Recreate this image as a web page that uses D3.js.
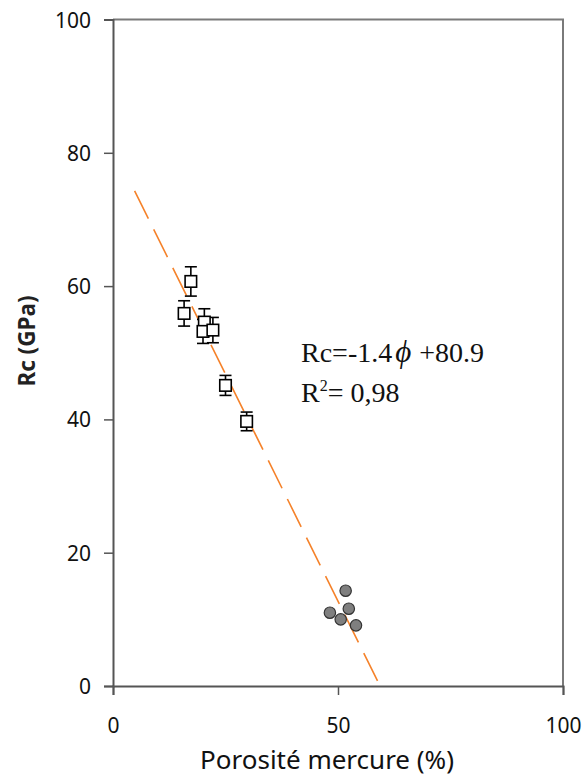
<!DOCTYPE html>
<html><head><meta charset="utf-8">
<script src="https://cdn.jsdelivr.net/npm/d3@7"></script>
<style>body{margin:0;background:#fff;}svg{display:block;}</style>
</head><body><svg id="c" width="587" height="778"></svg>
<script>
// Data
const squareX   = [17.3, 15.8, 20.3, 20.0, 22.2, 25.0, 29.7];
const squareY   = [60.7, 55.9, 54.6, 53.2, 53.4, 45.1, 39.7];
const squareErr = [2.2, 1.9, 2.0, 1.8, 1.9, 1.5, 1.4];
const circleX   = [51.7, 48.2, 52.4, 50.6, 54.0];
const circleY   = [14.3, 11.0, 11.6, 10.0, 9.1];
const fitX = [4.8, 59.2];
const fitY = [74.3, 0.2];
const xTicks = [0, 50, 100];
const yTicks = [0, 20, 40, 60, 80, 100];

const svg = d3.select("#c");
const L = 113, R = 563, T = 19.5, B = 686;
const x = d3.scaleLinear().domain([0, 100]).range([L, R]);
const y = d3.scaleLinear().domain([0, 100]).range([B, T]);

// frame (top/right)
svg.append("path").attr("d", `M${L},${T}H${R}V${B}`).attr("fill","none")
  .attr("stroke","#7a7a7a").attr("stroke-width",2);

// axes
const yAx = svg.append("g").attr("transform",`translate(${L},0)`)
  .call(d3.axisLeft(y).tickValues(yTicks).tickSize(9).tickPadding(13).tickFormat(d3.format("d")));
const xAx = svg.append("g").attr("transform",`translate(0,${B})`)
  .call(d3.axisBottom(x).tickValues(xTicks).tickSize(9).tickPadding(23).tickFormat(d3.format("d")));
[yAx, xAx].forEach(g => {
  g.select(".domain").attr("stroke","#555").attr("stroke-width",2);
  g.selectAll(".tick line").attr("stroke","#555").attr("stroke-width",1.5);
  g.selectAll("text").attr("font-family","'Noto Sans', sans-serif").attr("font-size",21).attr("fill","#111");
});
yAx.selectAll("text").attr("dy","0.36em");

// axis titles
svg.append("text").attr("x", 327).attr("y", 769).attr("text-anchor","middle")
  .attr("font-family","'Noto Sans', sans-serif").attr("font-size",26).attr("fill","#111")
  .text("Porosité mercure (%)");
svg.append("text").attr("transform",`translate(35,341) rotate(-90)`).attr("text-anchor","middle")
  .attr("font-family","'Noto Sans', sans-serif").attr("font-size",22.5).attr("font-weight","bold").attr("fill","#222")
  .text("Rc (GPa)");

// fit line
svg.append("line").attr("x1",x(fitX[0])).attr("y1",y(fitY[0])).attr("x2",x(fitX[1])).attr("y2",y(fitY[1]))
  .attr("stroke","#f5822a").attr("stroke-width",1.6).attr("stroke-dasharray","31 12");

// squares with error bars
const sq = squareX.map((v,i)=>({x:v,y:squareY[i],e:squareErr[i]}));
const eg = svg.append("g").attr("stroke","#000").attr("stroke-width",1.6).attr("fill","none");
sq.forEach(d=>{
  const cx = x(d.x);
  eg.append("line").attr("x1",cx).attr("x2",cx).attr("y1",y(d.y+d.e)).attr("y2",y(d.y-d.e));
  eg.append("line").attr("x1",cx-6).attr("x2",cx+6).attr("y1",y(d.y+d.e)).attr("y2",y(d.y+d.e));
  eg.append("line").attr("x1",cx-6).attr("x2",cx+6).attr("y1",y(d.y-d.e)).attr("y2",y(d.y-d.e));
});
svg.append("g").selectAll("rect").data(sq).join("rect")
  .attr("x",d=>x(d.x)-5.75).attr("y",d=>y(d.y)-5.75).attr("width",11.5).attr("height",11.5)
  .attr("fill","#fff").attr("stroke","#000").attr("stroke-width",1.6);

// circles
const ci = circleX.map((v,i)=>({x:v,y:circleY[i]}));
svg.append("g").selectAll("circle").data(ci).join("circle")
  .attr("cx",d=>x(d.x)).attr("cy",d=>y(d.y)).attr("r",5.7)
  .attr("fill","#7f7f7f").attr("stroke","#333").attr("stroke-width",1.2);

// equation
const eq = svg.append("text").attr("x",301).attr("y",362)
  .attr("font-family","'Liberation Serif', serif").attr("font-size",28).attr("fill","#111");
eq.append("tspan").text("Rc=-1.4");
eq.append("tspan").attr("font-style","italic").attr("dx",3).attr("font-size",31).text("ϕ");
eq.append("tspan").attr("dx",1).text(" +80.9");
const r2 = svg.append("text").attr("x",301).attr("y",402)
  .attr("font-family","'Liberation Serif', serif").attr("font-size",28).attr("fill","#111");
r2.append("tspan").text("R");
r2.append("tspan").attr("font-size",16).attr("dy",-11).text("2");
r2.append("tspan").attr("dy",11).text("= 0,98");
</script></body></html>
